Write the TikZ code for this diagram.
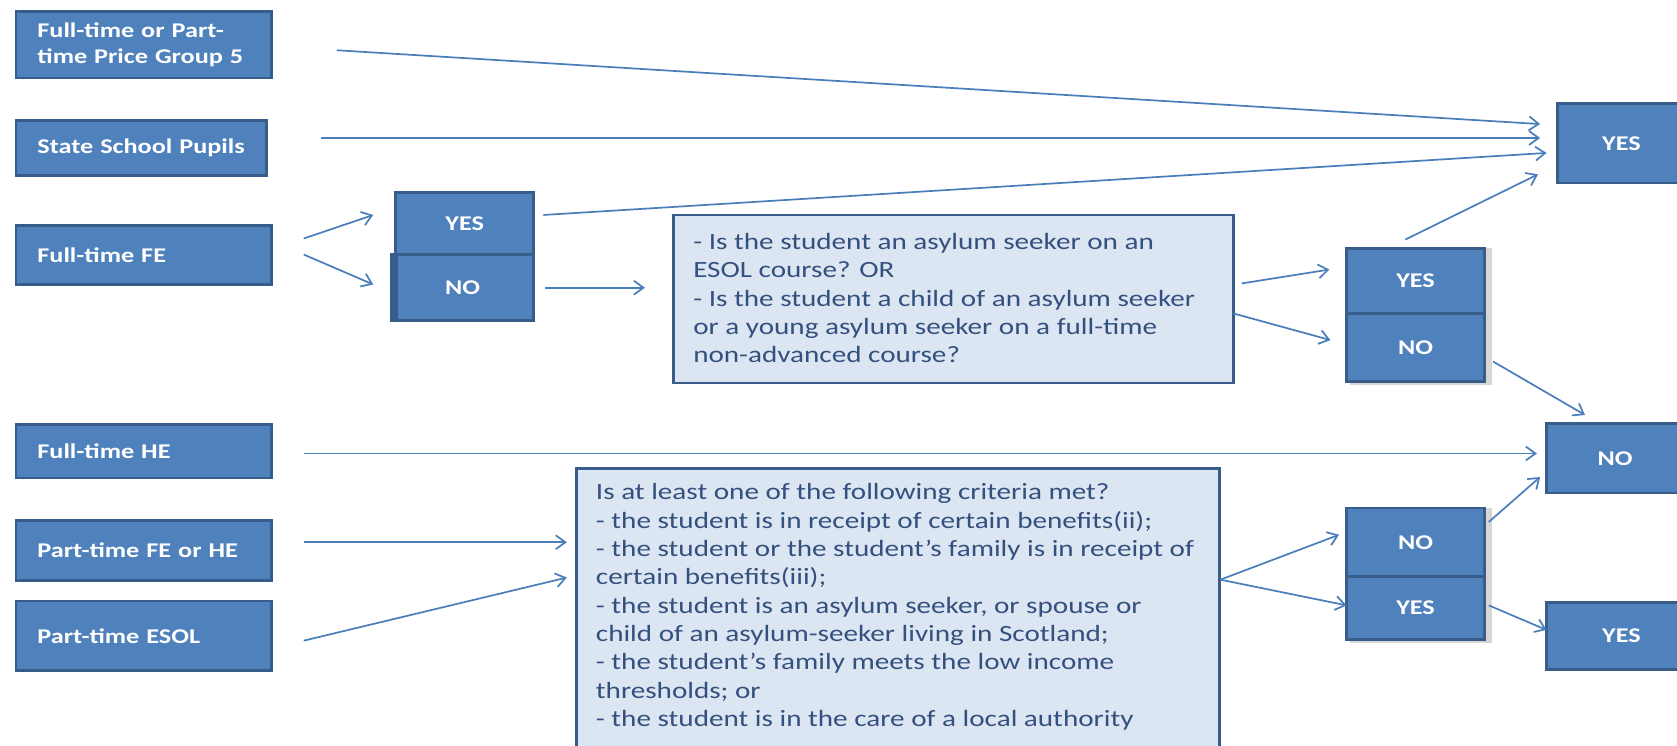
\documentclass[tikz,border=0pt]{standalone}
\usepackage{fontspec}
\setmainfont{Carlito}[FakeStretch=1.25]
\usetikzlibrary{arrows.meta}
\definecolor{boxblue}{HTML}{4F81BD}
\definecolor{boxedge}{HTML}{385D8A}
\definecolor{lightfill}{HTML}{DCE6F2}
\definecolor{arrowblue}{HTML}{4A7EBB}
\definecolor{qtext}{HTML}{34507F}
\definecolor{shadowgrey}{HTML}{D6D6D6}
\tikzset{
  bluebox/.style={draw=boxedge, line width=2.6pt, fill=boxblue, text=white,
    font=\fontsize{19.6}{24.5}\selectfont\bfseries, inner ysep=0pt},
  leftbox/.style 2 args={bluebox, minimum width=#1pt, minimum height=#2pt,
    inner xsep=20pt, text width=#1pt-40pt, align=left},
  ansbox/.style 2 args={bluebox, minimum width=#1pt, minimum height=#2pt, inner xsep=0pt, align=center},
  lightbox/.style 2 args={draw=boxedge, line width=2.6pt, fill=lightfill,
    minimum width=#1pt, minimum height=#2pt, inner sep=0pt},
  qlabel/.style={text=qtext, font=\fontsize{21.8}{26.5}\selectfont, align=left,
    inner sep=0pt, anchor=north west},
  arr/.style={draw=arrowblue, line width=1.6pt, -{Straight Barb[length=9pt,width=13pt,line width=1.6pt]}},
  shadowstrip/.style={fill=shadowgrey, draw=none},
}
\begin{document}
\begin{tikzpicture}[x=1pt,y=-1pt]
\useasboundingbox (0,0) rectangle (1568,697);
\fill[white] (0,0) rectangle (1568,697);
\clip (0,0) rectangle (1568,697);

% left column boxes
\node[leftbox={239}{62}] (b1) at (134.5,42) {Full-time or Part-\\time Price Group 5};
\node[leftbox={234}{51}] (b2) at (132,138.5) {State School Pupils};
\node[leftbox={239}{55}] (b3) at (134.5,238.5) {Full-time FE};
\node[leftbox={239}{50}] (b4) at (134.5,422) {Full-time HE};
\node[leftbox={239}{56}] (b5) at (134.5,514.5) {Part-time FE or HE};
\node[leftbox={239}{65}] (b6) at (134.5,594.5) {Part-time ESOL};

% first YES/NO pair
\node[ansbox={129}{58}] (yes1) at (434.5,209) {YES};
\node[ansbox={133}{62}] (no1) at (432.5,269) {NO};
\fill[boxedge] (365,238) rectangle (372,301);

% question boxes
\node[lightbox={523}{157}] (q1) at (891.5,279.5) {};
\node[qlabel] (q1t) at (648,218) {- Is the student an asylum seeker on an\\ESOL course? OR\\- Is the student a child of an asylum seeker\\or a young asylum seeker on a full-time\\non-advanced course?};
\node[lightbox={601}{272}] (q2) at (839.5,574) {};
\node[qlabel] (q2t) at (557,452) {Is at least one of the following criteria met?\\- the student is in receipt of certain benefits(ii);\\- the student or the student’s family is in receipt of\\certain benefits(iii);\\- the student is an asylum seeker, or spouse or\\child of an asylum-seeker living in Scotland;\\- the student’s family meets the low income\\thresholds; or\\- the student is in the care of a local authority};

% second YES/NO pair
\fill[shadowstrip] (1262,232) rectangle (1395,360);
\node[ansbox={129}{61}] (yes2) at (1323.5,262.5) {YES};
\node[ansbox={129}{64}] (no2) at (1323.5,325) {NO};

% third NO/YES pair
\fill[shadowstrip] (1262,475) rectangle (1395,601);
\node[ansbox={129}{64}] (no3) at (1323.5,507) {NO};
\node[ansbox={129}{59}] (yes3) at (1323.5,568.5) {YES};

% outcome boxes
\node[ansbox={120}{74}] (yesR) at (1516,134) {YES};
\node[ansbox={128}{65}] (noR) at (1510,428.5) {NO};
\node[ansbox={140}{63}] (yesB) at (1516,594.5) {YES};

% connector end points
\coordinate (s1) at (315,47);    \coordinate (e1) at (1440,116);
\coordinate (s2) at (300,129);   \coordinate (e2) at (1440,129);
\coordinate (s3) at (508,201);   \coordinate (e3) at (1446,143);
\coordinate (s4) at (1314,224);  \coordinate (e4) at (1438,163);
\coordinate (s5) at (284,223);   \coordinate (e5) at (349,201);
\coordinate (s6) at (284,238);   \coordinate (e6) at (349,266);
\coordinate (s7) at (510,269);   \coordinate (e7) at (603,269);
\coordinate (s8) at (1161,265);  \coordinate (e8) at (1243,252);
\coordinate (s9) at (1153,293);  \coordinate (e9) at (1244,318);
\coordinate (s10) at (1396,338); \coordinate (e10) at (1482,388);
\coordinate (s11) at (284,424);  \coordinate (e11) at (1437,424);
\coordinate (s12) at (284,507);  \coordinate (e12) at (530,507);
\coordinate (s13) at (284,599);  \coordinate (e13) at (530,540);
\coordinate (s14) at (1141,542); \coordinate (e14) at (1252,500);
\coordinate (e15) at (1259,566);
\coordinate (s16) at (1392,488); \coordinate (e16) at (1440,446);
\coordinate (s17) at (1392,566); \coordinate (e17) at (1446,589);

\draw[arr] (s1) -- (e1);
\draw[arr] (s2) -- (e2);
\draw[arr] (s3) -- (e3);
\draw[arr] (s4) -- (e4);
\draw[arr] (s5) -- (e5);
\draw[arr] (s6) -- (e6);
\draw[arr] (s7) -- (e7);
\draw[arr] (s8) -- (e8);
\draw[arr] (s9) -- (e9);
\draw[arr] (s10) -- (e10);
\draw[arr] (s11) -- (e11);
\draw[arr] (s12) -- (e12);
\draw[arr] (s13) -- (e13);
\draw[arr] (s14) -- (e14);
\draw[arr] (s14) -- (e15);
\draw[arr] (s16) -- (e16);
\draw[arr] (s17) -- (e17);
\end{tikzpicture}
\end{document}
